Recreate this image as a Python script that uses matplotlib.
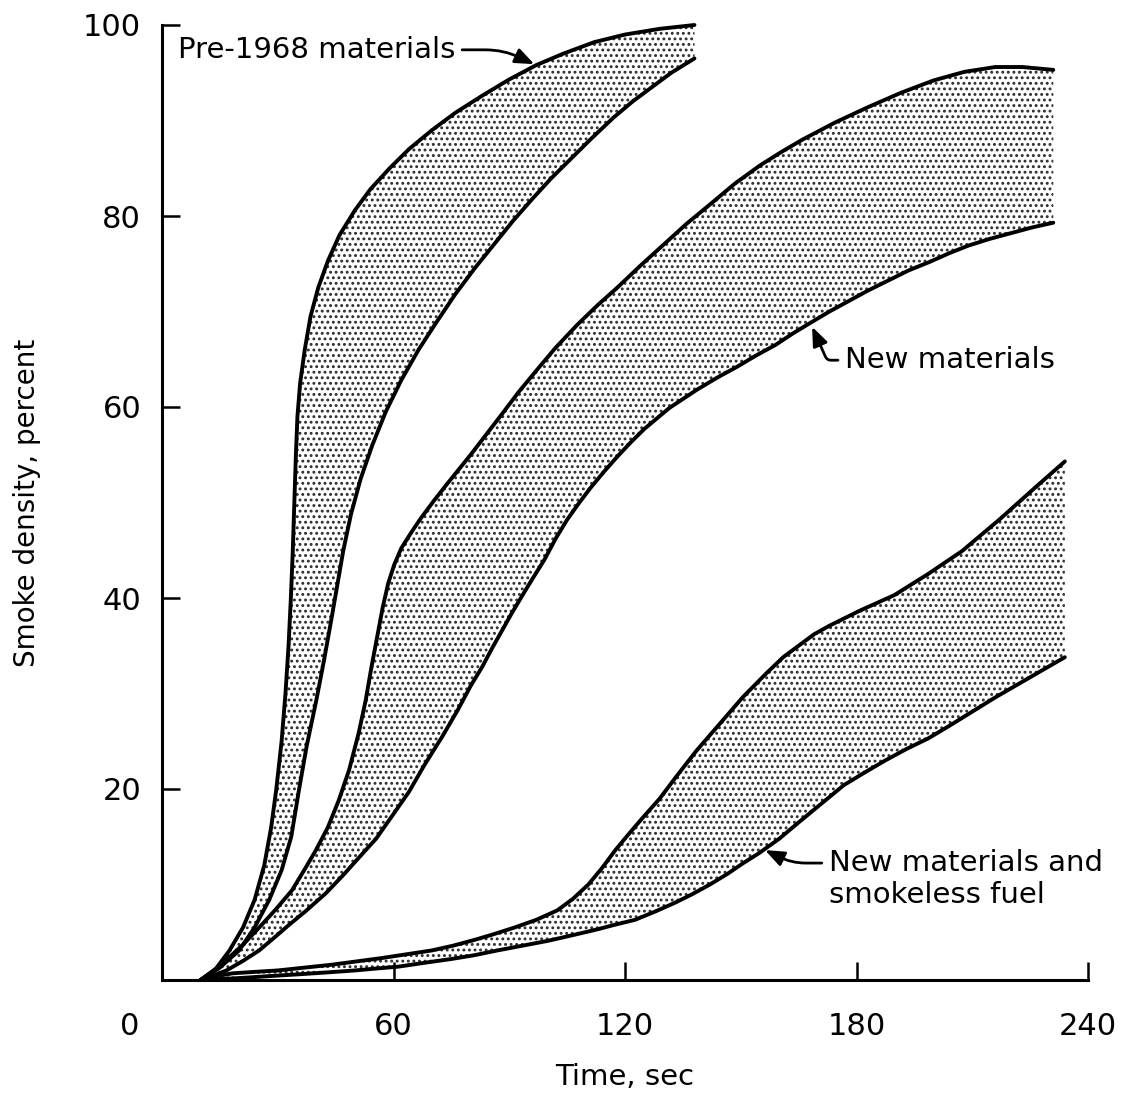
import matplotlib
matplotlib.use('Agg')
import matplotlib.pyplot as plt
import numpy as np

# ---------------- data ----------------
pre_hi_x = [10, 14, 17.5, 21, 24, 26.5, 28.3, 29.6, 31, 32, 32.8, 33.4, 33.9, 34.3, 34.7, 35.1, 35.8, 37, 38.5,
            40.5, 43, 46, 50, 54, 59, 64, 70, 76, 83, 90, 97, 104, 112, 120, 129, 138]
pre_hi_y = [0, 1.2, 3.1, 5.5, 8.4, 12, 16, 19.9, 25, 30, 35, 40, 45, 50, 55, 59, 62.5, 66, 69.5,
            72.5, 75.3, 78, 80.6, 82.8, 85, 87, 89, 90.8, 92.6, 94.3, 95.8, 97, 98.2, 99, 99.6, 100]
pre_lo_x = [10, 15, 20, 24, 27.8, 31, 33.5, 35.5, 37.5, 40, 42, 44, 45.5, 47, 49, 51.5, 54.5, 58, 62, 66.5,
            71, 76, 81, 86, 91, 96, 101, 106, 111, 117, 122, 127, 132, 138]
pre_lo_y = [0, 1.3, 3.1, 5.5, 8.4, 11.5, 15, 19.9, 24.5, 29.3, 33.5, 38, 41.5, 45, 48.8, 52.5, 56, 59.5, 62.8, 66,
            68.8, 71.8, 74.5, 77, 79.5, 81.8, 84, 86, 88, 90.3, 92, 93.5, 95, 96.5]

new_hi_x = [10, 13.5, 16.7, 21, 25.2, 29.5, 33.7, 37, 39.9, 43, 45.8, 48.5, 51, 52.8, 54.3, 55.8, 57.2, 58.6,
            60.2, 62, 64.5, 67, 70.5, 74, 77, 80, 84, 88, 92.5, 97, 102, 107.6, 113, 118, 124, 130, 136, 142,
            148.5, 155, 160.5, 166, 174.5, 183, 191.5, 200, 208, 216, 223, 231]
new_hi_y = [0, 1, 2.1, 3.7, 5.5, 7.4, 9.4, 11.6, 13.6, 16, 18.8, 22, 25.9, 29.3, 32.8, 36, 39, 41.5,
            43.5, 45.2, 46.8, 48.3, 50.2, 52, 53.5, 55, 57.1, 59.2, 61.6, 63.8, 66.2, 68.6, 70.7, 72.5, 74.8, 77,
            79.2, 81.2, 83.4, 85.3, 86.7, 88, 89.8, 91.4, 92.9, 94.2, 95.1, 95.6, 95.6, 95.3]
new_lo_x = [10, 13.5, 16.7, 21, 25.2, 29, 33, 37.5, 42.5, 47, 51, 55.5, 59.5, 64, 68, 72.5, 76.7, 80, 83, 85.5,
            88, 90.5, 93, 96, 99.1, 102, 105, 108, 111, 114.5, 118, 121.5, 125, 131.5, 138.6, 144, 149, 154,
            159, 163.5, 168, 173, 178, 183, 188, 193.5, 199, 204, 209, 214.5, 220, 225.5, 231]
new_lo_y = [0, 0.5, 1, 2, 3.1, 4.4, 5.8, 7.3, 9.1, 11, 12.8, 14.8, 17.1, 19.7, 22.5, 25.4, 28.3, 30.8, 32.8, 34.7,
            36.5, 38.3, 40, 42, 44, 46.2, 48.2, 49.9, 51.5, 53.2, 54.8, 56.3, 57.7, 59.9, 61.8, 63.1, 64.2, 65.4,
            66.5, 67.7, 68.8, 70, 71.1, 72.2, 73.2, 74.3, 75.2, 76.1, 76.9, 77.6, 78.2, 78.8, 79.3]

smk_hi_x = [10, 14, 18.3, 24, 30, 37, 44, 50.5, 57, 63.5, 70, 75.5, 81, 86, 91.4, 97, 102.5, 106.5, 110.5, 114,
            117.5, 121, 124.4, 129, 133.1, 138.5, 144.5, 150.5, 156.6, 161, 165, 169, 173, 181, 189.8, 198.5,
            207.3, 217, 226.4, 234]
smk_hi_y = [0, 0.4, 0.7, 0.85, 1.0, 1.3, 1.6, 1.95, 2.3, 2.7, 3.1, 3.6, 4.2, 4.8, 5.5, 6.3, 7.3, 8.5, 10, 11.7,
            13.6, 15.3, 16.9, 19, 21.2, 24, 26.8, 29.6, 32.1, 33.8, 35, 36.2, 37.1, 38.7, 40.3, 42.5,
            44.9, 48.2, 51.6, 54.3]
smk_lo_x = [10, 15, 20, 27.5, 35.5, 43, 50, 55.5, 61.3, 68, 75, 81, 87, 93.5, 100, 106.5, 112.8, 117.5, 122.6,
            128, 133, 137.5, 142, 146.5, 150.5, 154.8, 160, 165, 171, 176.7, 182, 187.5, 193, 198.6, 204, 210,
            216, 222, 228, 234]
smk_lo_y = [0, 0.1, 0.2, 0.4, 0.6, 0.8, 1.0, 1.2, 1.4, 1.8, 2.2, 2.6, 3.1, 3.6, 4.1, 4.7, 5.3, 5.8, 6.3,
            7.2, 8.1, 9.0, 10.0, 11.1, 12.2, 13.3, 14.8, 16.5, 18.5, 20.4, 21.7, 23, 24.2, 25.3, 26.6, 28.1,
            29.6, 31, 32.4, 33.8]

x_ticks = [60, 120, 180, 240]
y_ticks = [20, 40, 60, 80, 100]
labels = ["Pre-1968 materials", "New materials", "New materials and\nsmokeless fuel"]
label_pos = [(4.1, 97.4), (177.0, 64.9), (172.8, 10.6)]
arrow_tips = [(96.5, 95.9), (168.5, 68.4), (156.3, 13.6)]

# ---------------- figure ----------------
plt.rcParams['font.family'] = ['DejaVu Sans']
plt.rcParams['hatch.linewidth'] = 1.3

fig = plt.figure(figsize=(11.36, 11.0), dpi=100)
ax = fig.add_axes([162 / 1136, 120 / 1100, (1088 - 162) / 1136, (980 - 25) / 1100])

bands = [(pre_hi_x, pre_hi_y, pre_lo_x, pre_lo_y),
         (new_hi_x, new_hi_y, new_lo_x, new_lo_y),
         (smk_hi_x, smk_hi_y, smk_lo_x, smk_lo_y)]
for xh, yh, xl, yl in bands:
    xh, yh, xl, yl = map(np.asarray, (xh, yh, xl, yl))
    ax.fill(np.concatenate([xh, xl[::-1]]), np.concatenate([yh, yl[::-1]]),
            facecolor='white', edgecolor='#2a2a2a', hatch='...', lw=0, zorder=1)
    for xx, yy in ((xh, yh), (xl, yl)):
        ax.plot(xx, yy, color='black', lw=2.8, solid_joinstyle='round',
                solid_capstyle='round', clip_on=False, zorder=3)

ax.set_xlim(0, 240)
ax.set_ylim(0, 100)
for s in ('top', 'right'):
    ax.spines[s].set_visible(False)
for s in ('left', 'bottom'):
    ax.spines[s].set_linewidth(2.2)

ax.set_xticks(x_ticks)
ax.set_xticklabels([str(v) for v in x_ticks])
ax.set_yticks(y_ticks)
ax.set_yticklabels([str(v) for v in y_ticks])
ax.tick_params(axis='both', direction='in', length=13, width=1.8, labelsize=22)
ax.tick_params(axis='x', pad=23)
ax.tick_params(axis='y', pad=15)
ax.annotate('0', xy=(0, 0), xycoords='data', xytext=(-23, -23), textcoords='offset points',
            ha='center', va='top', fontsize=22)

ax.set_xlabel('Time, sec', fontsize=21, labelpad=16)
ax.set_ylabel('Smoke density, percent', fontsize=20, labelpad=30)

conns = ['angle,angleA=0,angleB=155,rad=18',
         'angle,angleA=0,angleB=-66,rad=4',
         'angle,angleA=0,angleB=-26,rad=14']
relposes = [(1, 0.5), (0, 0.5), (0, 0.76)]
for txt, pos, tip, cs, rp in zip(labels, label_pos, arrow_tips, conns, relposes):
    ax.annotate(txt, xy=tip, xytext=pos, ha='left', va='center', fontsize=21,
                linespacing=1.2,
                arrowprops=dict(arrowstyle='-|>,head_length=0.55,head_width=0.22', color='black',
                                lw=2.0, connectionstyle=cs, relpos=rp, shrinkA=3, shrinkB=0),
                annotation_clip=False, zorder=4)

fig.savefig('out.png', dpi=100)
